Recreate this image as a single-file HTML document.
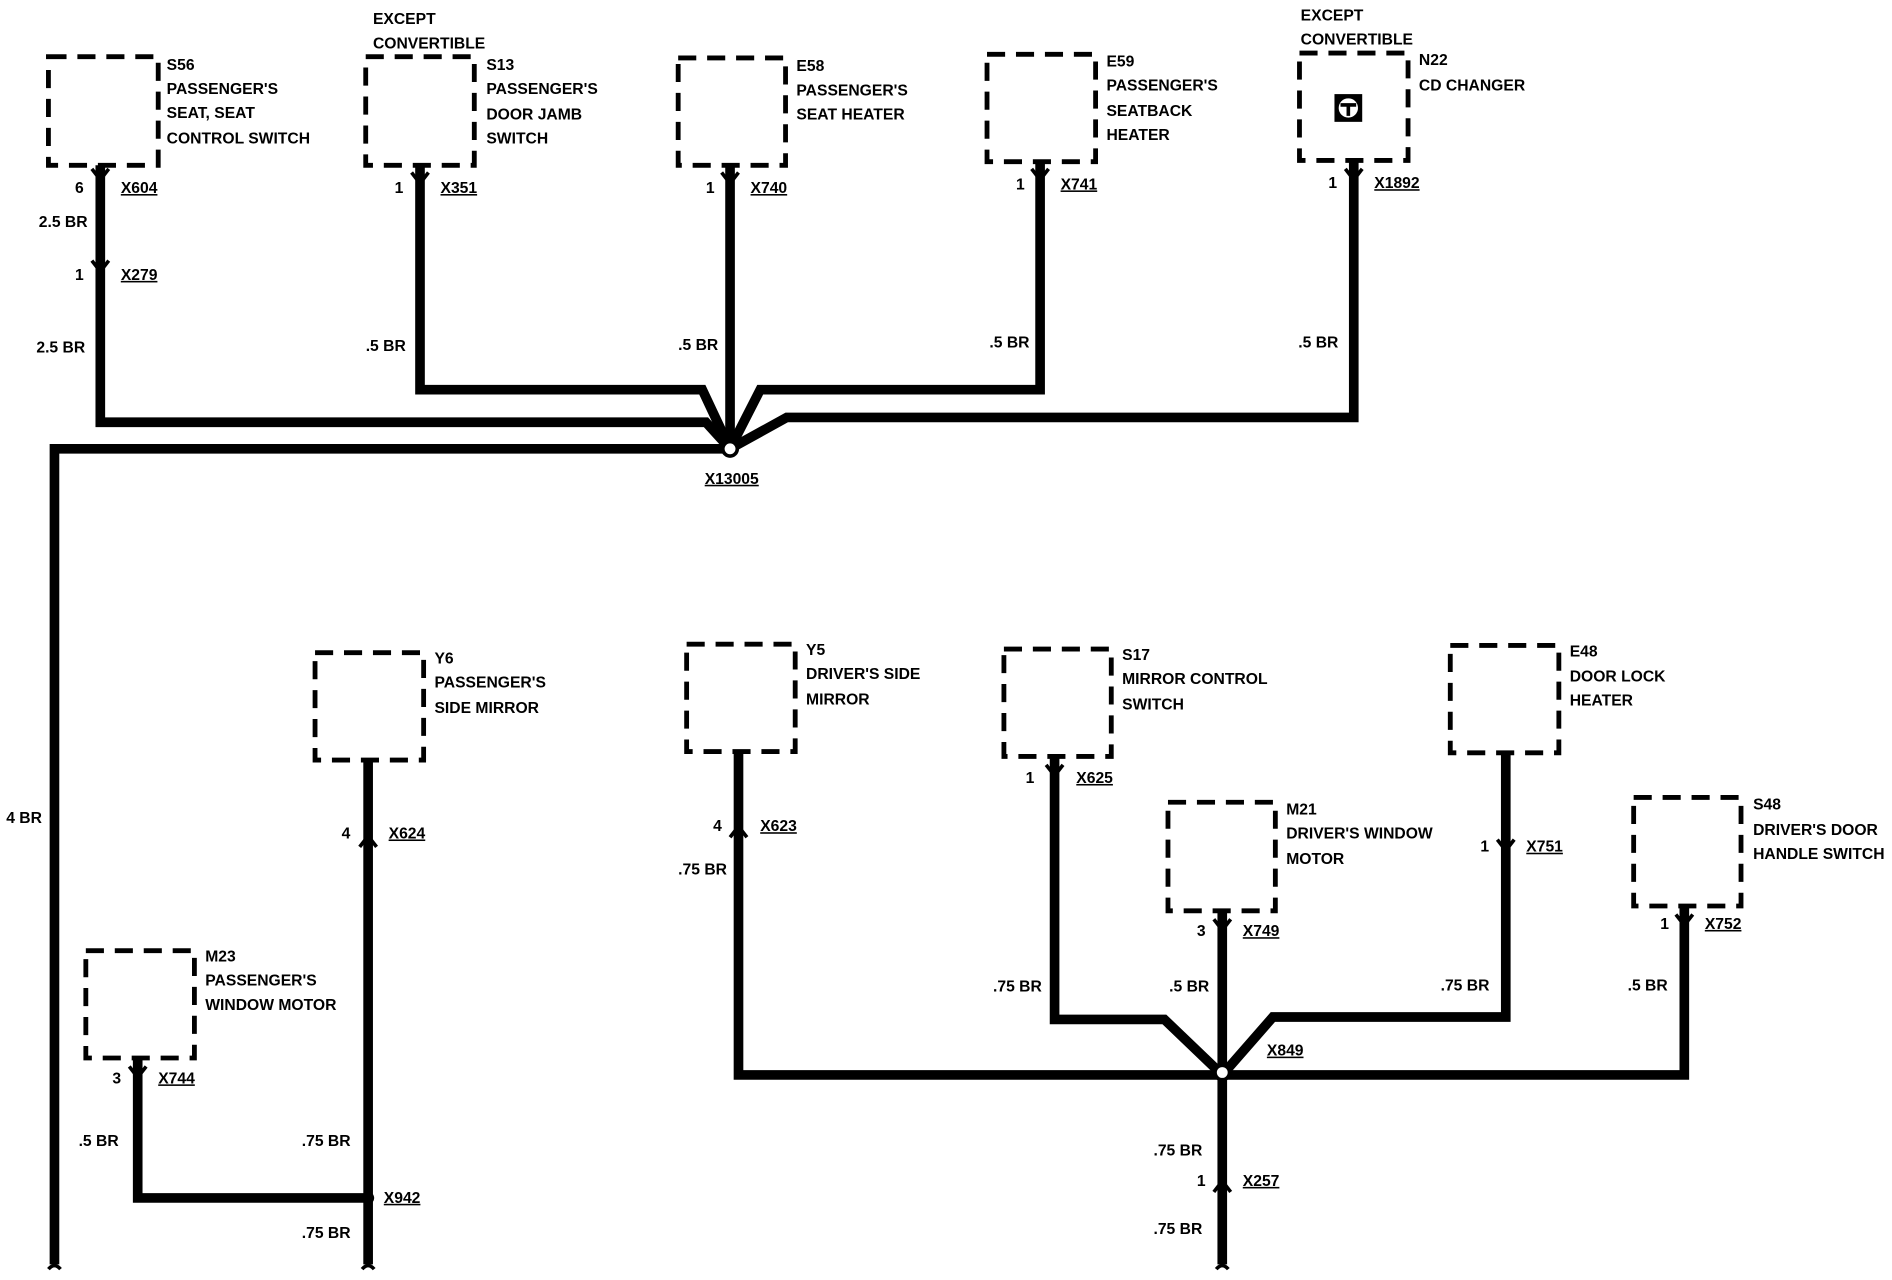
<!DOCTYPE html>
<html><head><meta charset="utf-8"><style>
html,body{margin:0;padding:0;background:#fff;}
svg{display:block;}
text{font-family:"Liberation Sans",sans-serif;font-weight:bold;font-size:13px;fill:#000;}
</style></head><body>
<svg width="1892" height="1280" viewBox="0 0 1568 1061" xmlns="http://www.w3.org/2000/svg">
<g fill="none" stroke="#000" stroke-width="4" stroke-dasharray="15,9">
<rect x="40" y="47" width="91" height="90"/>
<rect x="303" y="47" width="90" height="90"/>
<rect x="562" y="48" width="89" height="89"/>
<rect x="818" y="45" width="90" height="89"/>
<rect x="1077" y="44" width="90" height="89"/>
<rect x="261" y="541" width="90" height="89"/>
<rect x="71" y="788" width="90" height="89"/>
<rect x="569" y="534" width="90" height="89"/>
<rect x="832" y="538" width="89" height="89"/>
<rect x="968" y="665" width="89" height="90"/>
<rect x="1202" y="535" width="90" height="89"/>
<rect x="1354" y="661" width="89" height="90"/>
</g>
<g>
<rect x="1106" y="78" width="23" height="23" fill="#000"/>
<circle cx="1117.5" cy="89.5" r="8" fill="#fff"/>
<path d="M1111 87 h13 M1117.5 88 v8" stroke="#000" stroke-width="3"/>
</g>
<g fill="none" stroke="#000" stroke-width="8" stroke-linejoin="miter">
<path d="M83 137 V350 H585 L605 372"/>
<path d="M348 137 V323 H582 L605 372"/>
<path d="M605 137 V372"/>
<path d="M862 134 V323 H630 L605 372"/>
<path d="M1122 133 V346 H652 L605 372"/>
<path d="M605 372 H45 V1048"/>
<path d="M305 630 V1048"/>
<path d="M114 877 V993 H305"/>
<path d="M612 623 V891 H1013"/>
<path d="M874 627 V845 H965 L1013 891"/>
<path d="M1013 755 V1048"/>
<path d="M1248 624 V843 H1055 L1013 891"/>
<path d="M1396 751 V891 H1013"/>
</g>
<g fill="none" stroke="#000" stroke-width="3">
<path d="M76 140 L83 149 L90 140"/>
<path d="M76 216 L83 225 L90 216"/>
<path d="M341 143 L348 152 L355 143"/>
<path d="M598 143 L605 152 L612 143"/>
<path d="M855 140 L862 149 L869 140"/>
<path d="M1115 140 L1122 149 L1129 140"/>
<path d="M298 702 L305 693 L312 702"/>
<path d="M107 884 L114 893 L121 884"/>
<path d="M605 694 L612 685 L619 694"/>
<path d="M867 634 L874 643 L881 634"/>
<path d="M1006 762 L1013 771 L1020 762"/>
<path d="M1241 696 L1248 705 L1255 696"/>
<path d="M1389 758 L1396 767 L1403 758"/>
<path d="M1006 988 L1013 979 L1020 988"/>
<path d="M40 1052 q5 -6 10 0 M300 1052 q5 -6 10 0 M1008 1052 q5 -6 10 0"/>
</g>
<circle cx="605" cy="372" r="6" fill="#fff" stroke="#000" stroke-width="3"/>
<circle cx="1013" cy="889" r="6" fill="#fff" stroke="#000" stroke-width="3"/>
<circle cx="305" cy="993" r="5" fill="#000"/>
<g>
<text x="138" y="58">S56</text><text x="138" y="78">PASSENGER'S</text><text x="138" y="98">SEAT, SEAT</text><text x="138" y="119">CONTROL SWITCH</text>
<text x="309" y="20">EXCEPT</text><text x="309" y="40">CONVERTIBLE</text>
<text x="403" y="58">S13</text><text x="403" y="78">PASSENGER'S</text><text x="403" y="99">DOOR JAMB</text><text x="403" y="119">SWITCH</text>
<text x="660" y="59">E58</text><text x="660" y="79">PASSENGER'S</text><text x="660" y="99">SEAT HEATER</text>
<text x="917" y="55">E59</text><text x="917" y="75">PASSENGER'S</text><text x="917" y="96">SEATBACK</text><text x="917" y="116">HEATER</text>
<text x="1078" y="17">EXCEPT</text><text x="1078" y="37">CONVERTIBLE</text>
<text x="1176" y="54">N22</text><text x="1176" y="75">CD CHANGER</text>
<text x="62" y="160">6</text><text x="100" y="160" text-decoration="underline">X604</text>
<text x="32" y="188">2.5 BR</text>
<text x="62" y="232">1</text><text x="100" y="232" text-decoration="underline">X279</text>
<text x="30" y="292">2.5 BR</text>
<text x="327" y="160">1</text><text x="365" y="160" text-decoration="underline">X351</text>
<text x="303" y="291">.5 BR</text>
<text x="585" y="160">1</text><text x="622" y="160" text-decoration="underline">X740</text>
<text x="562" y="290">.5 BR</text>
<text x="842" y="157">1</text><text x="879" y="157" text-decoration="underline">X741</text>
<text x="820" y="288">.5 BR</text>
<text x="1101" y="156">1</text><text x="1139" y="156" text-decoration="underline">X1892</text>
<text x="1076" y="288">.5 BR</text>
<text x="584" y="401" text-decoration="underline">X13005</text>
<text x="5" y="682">4 BR</text>
<text x="360" y="550">Y6</text><text x="360" y="570">PASSENGER'S</text><text x="360" y="591">SIDE MIRROR</text>
<text x="283" y="695">4</text><text x="322" y="695" text-decoration="underline">X624</text>
<text x="170" y="797">M23</text><text x="170" y="817">PASSENGER'S</text><text x="170" y="837">WINDOW MOTOR</text>
<text x="93" y="898">3</text><text x="131" y="898" text-decoration="underline">X744</text>
<text x="65" y="950">.5 BR</text>
<text x="250" y="950">.75 BR</text>
<text x="318" y="997" text-decoration="underline">X942</text>
<text x="250" y="1026">.75 BR</text>
<text x="668" y="543">Y5</text><text x="668" y="563">DRIVER'S SIDE</text><text x="668" y="584">MIRROR</text>
<text x="591" y="689">4</text><text x="630" y="689" text-decoration="underline">X623</text>
<text x="562" y="725">.75 BR</text>
<text x="930" y="547">S17</text><text x="930" y="567">MIRROR CONTROL</text><text x="930" y="588">SWITCH</text>
<text x="850" y="649">1</text><text x="892" y="649" text-decoration="underline">X625</text>
<text x="823" y="822">.75 BR</text>
<text x="1066" y="675">M21</text><text x="1066" y="695">DRIVER'S WINDOW</text><text x="1066" y="716">MOTOR</text>
<text x="992" y="776">3</text><text x="1030" y="776" text-decoration="underline">X749</text>
<text x="969" y="822">.5 BR</text>
<text x="1301" y="544">E48</text><text x="1301" y="565">DOOR LOCK</text><text x="1301" y="585">HEATER</text>
<text x="1227" y="706">1</text><text x="1265" y="706" text-decoration="underline">X751</text>
<text x="1194" y="821">.75 BR</text>
<text x="1453" y="671">S48</text><text x="1453" y="692">DRIVER'S DOOR</text><text x="1453" y="712">HANDLE SWITCH</text>
<text x="1376" y="770">1</text><text x="1413" y="770" text-decoration="underline">X752</text>
<text x="1349" y="821">.5 BR</text>
<text x="1050" y="875" text-decoration="underline">X849</text>
<text x="956" y="958">.75 BR</text>
<text x="992" y="983">1</text><text x="1030" y="983" text-decoration="underline">X257</text>
<text x="956" y="1023">.75 BR</text>
</g>
</svg>
</body></html>
